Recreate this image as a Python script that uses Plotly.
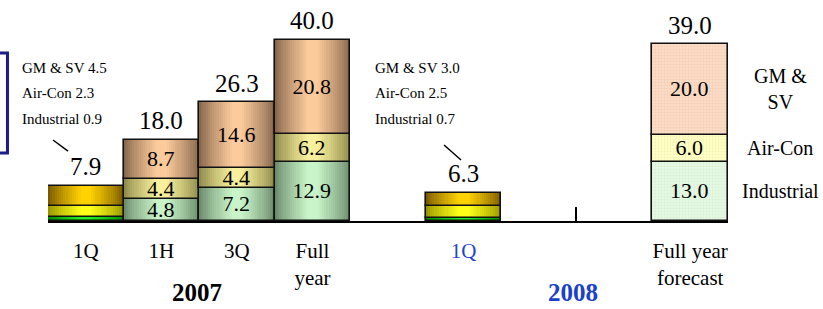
import plotly.graph_objects as go

# ---------------- data ----------------
categories = ["2007 1Q", "2007 1H", "2007 3Q", "2007 FY", "2008 1Q", "2008 FY forecast"]
slot_order = ["2007 1Q", "2007 1H", "2007 3Q", "2007 FY", "gap a",
              "2008 1Q", "gap b", "gap c", "2008 FY forecast"]
tick_labels = ["1Q", "1H", "3Q", "Full<br>year",
               "<span style='color:#1f44cc'>1Q</span>", "Full year<br>forecast"]
series_names = ["Industrial", "Air-Con", "GM & SV"]
industrial = [0.9, 4.8, 7.2, 12.9, 0.7, 13.0]
air_con = [2.3, 4.4, 4.4, 6.2, 2.5, 6.0]
gm_sv = [4.5, 8.7, 14.6, 20.8, 3.0, 20.0]
totals = [7.9, 18.0, 26.3, 40.0, 6.3, 39.0]
quarter_callout = [True, False, False, False, True, False]
is_forecast = [False, False, False, False, False, True]
right_labels = ["Industrial", "Air-Con", "GM &<br>SV"]

FONT = "Liberation Serif, Times New Roman, serif"

# colour styles: (edge, centre) for gradients, flat for forecast
grad_quarter = {"Industrial": ("#008a00", "#22f022"),
                "Air-Con": ("#9a9600", "#ffff18"),
                "GM & SV": ("#7a5a00", "#ffd200")}
grad_cum = {"Industrial": ("#6c8a6c", "#c9f4c9"),
            "Air-Con": ("#8e8a4c", "#f8f09c"),
            "GM & SV": ("#86664c", "#fccb9c")}
flat_fc = {"Industrial": "#e6f9e3", "Air-Con": "#ffffc6", "GM & SV": "#fcdcc6"}
pat_fc = {"Industrial": "#c8e8c8", "Air-Con": "#e8e8a0", "GM & SV": "#e8c0a8"}


def mix(c1, c2, t):
    a = [int(c1[i:i + 2], 16) for i in (1, 3, 5)]
    b = [int(c2[i:i + 2], 16) for i in (1, 3, 5)]
    return "#" + "".join(f"{round(x + (y - x) * t):02x}" for x, y in zip(a, b))


fig = go.Figure()
series_vals = [industrial, air_con, gm_sv]
bases = []
run = [0.0] * len(categories)
for vals in series_vals:
    bases.append(list(run))
    run = [r + v for r, v in zip(run, vals)]

N = 16
for name, vals, base in zip(series_names, series_vals, bases):
    for k in range(N):
        t = k / (N - 1)
        w = 1.0 - 0.92 * k / N
        cols = []
        for i in range(len(categories)):
            if is_forecast[i]:
                cols.append(flat_fc[name])
            else:
                e, c = (grad_quarter if quarter_callout[i] else grad_cum)[name]
                cols.append(mix(e, c, t ** 0.8))
        fig.add_trace(go.Bar(x=categories, y=vals, base=base, width=w,
                             marker=dict(color=cols, line=dict(width=0)),
                             hoverinfo="skip", showlegend=False))
    # outline + value labels
    texts = ["" if quarter_callout[i] else f"{v:.1f}" for i, v in enumerate(vals)]
    fig.add_trace(go.Bar(
        x=categories, y=vals, base=base, width=1.0, name=name,
        text=texts, textposition="inside", insidetextanchor="middle",
        textangle=0, textfont=dict(family=FONT, size=22, color="black"),
        marker=dict(color="rgba(0,0,0,0)",
                    line=dict(color="#111111", width=1.6),
                    pattern=dict(shape=["." if f else "" for f in is_forecast],
                                 fgcolor=pat_fc[name], size=3, solidity=0.35,
                                 fillmode="overlay")),
        showlegend=False))

annotations = []
# totals above bars
for c, tot in zip(categories, totals):
    annotations.append(dict(x=c, y=tot, xref="x", yref="y", text=f"{tot:.1f}",
                            showarrow=False, yanchor="bottom", yshift=3,
                            font=dict(family=FONT, size=25, color="black")))

# call-outs for quarterly bars
callout_x = {"2007 1Q": -0.041, "2008 1Q": 0.478}
callout_y = [0.700, 0.585, 0.470]
for i, c in enumerate(categories):
    if quarter_callout[i]:
        lines = [f"GM & SV {gm_sv[i]:.1f}", f"Air-Con {air_con[i]:.1f}",
                 f"Industrial {industrial[i]:.1f}"]
        for ln, yy in zip(lines, callout_y):
            annotations.append(dict(x=callout_x[c], y=yy, xref="paper", yref="paper",
                                    text=ln, showarrow=False, xanchor="left",
                                    yanchor="middle",
                                    font=dict(family=FONT, size=15, color="black")))

# right-hand series labels at forecast segment middles
fi = is_forecast.index(True)
for lab, vals, base in zip(right_labels, series_vals, bases):
    annotations.append(dict(x=1.077, y=base[fi] + vals[fi] / 2, xref="paper", yref="y",
                            text=lab, showarrow=False, xanchor="center", yanchor="middle",
                            font=dict(family=FONT, size=20, color="black")))

# year labels
annotations.append(dict(x=0.219, y=-0.327, xref="paper", yref="paper", text="<b>2007</b>",
                        showarrow=False, xanchor="center", yanchor="middle",
                        font=dict(family=FONT, size=25, color="black")))
annotations.append(dict(x=0.772, y=-0.327, xref="paper", yref="paper", text="<b>2008</b>",
                        showarrow=False, xanchor="center", yanchor="middle",
                        font=dict(family=FONT, size=25, color="#1a40cc")))

shapes = [
    # navy box edge on the left (box extends beyond the frame)
    dict(type="rect", xref="paper", yref="paper", x0=-0.2, x1=-0.0596, y0=0.312, y1=0.7706,
         line=dict(color="#1c1c8c", width=3), fillcolor="rgba(0,0,0,0)"),
    # leader lines
    dict(type="line", xref="paper", yref="paper", x0=0.0074, y0=0.3716, x1=0.0294, y1=0.321,
         line=dict(color="black", width=1.5)),
    dict(type="line", xref="paper", yref="paper", x0=0.5824, y0=0.3486, x1=0.6074, y1=0.2798,
         line=dict(color="black", width=1.5)),
    # small break tick on axis
    dict(type="line", xref="paper", yref="paper", x0=0.7765, x1=0.7765, y0=0.0, y1=0.064,
         line=dict(color="black", width=2)),
]

fig.update_layout(
    width=823, height=309,
    margin=dict(l=48, r=95, t=3, b=88),
    paper_bgcolor="white", plot_bgcolor="white",
    barmode="overlay", bargap=0,
    showlegend=False,
    annotations=annotations, shapes=shapes,
    xaxis=dict(type="category", categoryorder="array", categoryarray=slot_order,
               range=[-0.5, 8.5], tickvals=categories, ticktext=tick_labels,
               tickfont=dict(family=FONT, size=21, color="black"),
               showline=True, linecolor="black", linewidth=1.5, ticks="",
               showgrid=False, zeroline=False, ticklabelstandoff=10),
    yaxis=dict(range=[0, 48.0], visible=False, showgrid=False, zeroline=False),
    uniformtext=dict(minsize=22, mode="show"),
)

fig.write_html("out.html", config={"displayModeBar": False},
               post_script="document.body.style.margin='0px';document.body.style.overflow='hidden';")
